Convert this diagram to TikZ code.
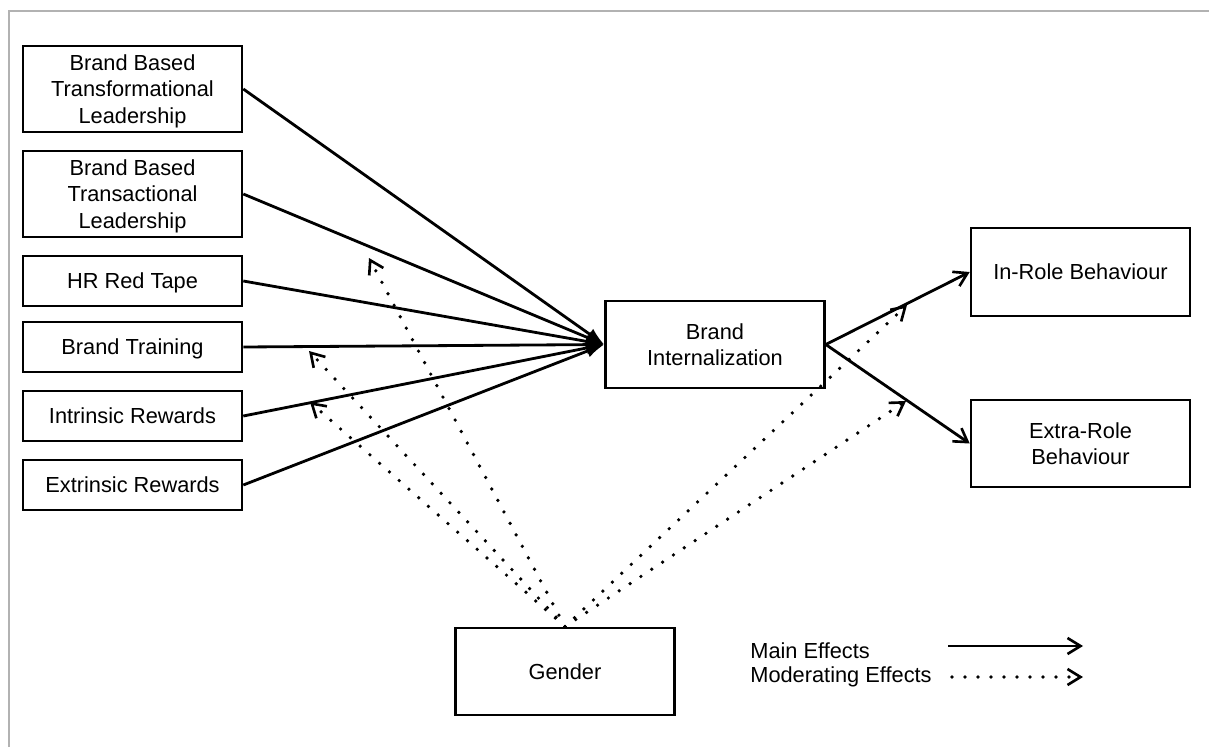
\documentclass[tikz,border=0pt]{standalone}
\usepackage{fontspec}
\setmainfont{Liberation Sans}
\usetikzlibrary{arrows.meta,positioning}
\tikzset{box/.style={draw,line width=1.5pt,minimum width=4.38cm,align=center,
  font=\fontsize{12.4}{15}\selectfont,inner sep=2pt,text depth=0pt},
  main/.style={line width=1.6pt}, moder/.style={line width=2.1pt,line cap=round,
  dash pattern=on 0pt off 7.4pt},
  barb/.style={-{Straight Barb[length=2.6mm,width=3.2mm,line width=1.5pt]}},
  lbl/.style={font=\fontsize{12.4}{15}\selectfont,inner sep=0pt}}

\begin{document}
\begin{tikzpicture}[x=0.02cm,y=-0.02cm]
 \useasboundingbox (0,0) rectangle (1209,747);
 \draw[gray!60,line width=0.8pt] (9,747) -- (9,11) -- (1209,11);
 % predictors
 \node[box,minimum height=1.72cm] (tfl) at (132.5,89) {Brand Based\\Transformational\\Leadership};
 \node[box,minimum height=1.72cm] (tsl) at (132.5,194) {Brand Based\\Transactional\\Leadership};
 \node[box,minimum height=1.0cm] (hrt) at (132.5,281) {HR Red Tape};
 \node[box,minimum height=1.0cm] (btr) at (132.5,347) {Brand Training};
 \node[box,minimum height=1.0cm] (irw) at (132.5,416) {Intrinsic Rewards};
 \node[box,minimum height=1.0cm] (erw) at (132.5,485) {Extrinsic Rewards};
 % mediator, outcomes, moderator
 \node[box,minimum height=1.74cm] (bint) at (715,344.5) {Brand\\Internalization};
 \node[box,minimum height=1.76cm] (irb) at (1080.5,272) {In-Role Behaviour};
 \node[box,minimum height=1.74cm] (erb) at (1080.5,443.5) {Extra-Role\\Behaviour};
 \node[box,minimum height=1.74cm] (gnd) at (565,671.5) {Gender};
 % main effects
 \foreach \n in {tfl,tsl,hrt,btr,irw,erw}
  \draw[main,-{Latex[length=3.6mm,width=2.6mm]}] (\n.east) -- (bint.west);
 \draw[main,barb] (bint.east) -- (irb.west);
 \draw[main,barb] (bint.east) -- (erb.west);
 % moderating effects
 \coordinate (m1) at (369,258);
 \coordinate (m2) at (309,351);
 \coordinate (m3) at (310,402);
 \coordinate (m4) at (907,305);
 \coordinate (m5) at (906,401);
 \foreach \m in {m1,m2,m3,m4,m5}
  \draw[moder,barb] (gnd.north) -- (\m);
 % legend
 \node[lbl,anchor=west] (lm) at (750,651) {Main Effects};
 \node[lbl,anchor=west] (lo) at (750,677) {Moderating Effects};
 \coordinate (la) at (948,646); \coordinate (lb) at (1083,646);
 \coordinate (lc) at (952,677); \coordinate (ld) at (1083,677);
 \draw[main,barb] (la) -- (lb);
 \draw[moder,barb] (lc) -- (ld);
\end{tikzpicture}
\end{document}
